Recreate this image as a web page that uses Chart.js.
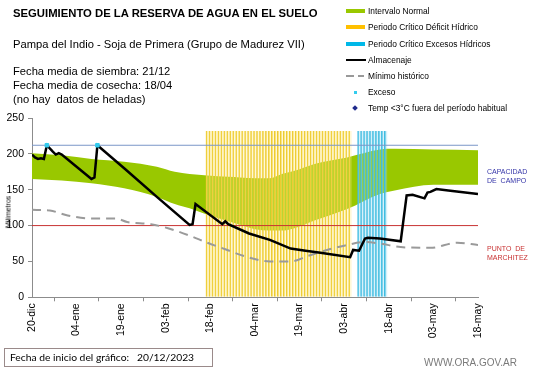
<!DOCTYPE html>
<html>
<head>
<meta charset="utf-8">
<script src="https://cdn.jsdelivr.net/npm/chart.js@4.4.1/dist/chart.umd.min.js"></script>
<style>
body { margin: 0; background: #fff; font-family: "Liberation Sans", Arial, sans-serif; }
#wrap { position: relative; width: 541px; height: 368px; overflow: hidden; }
#chart { position: absolute; left: 0; top: 0; }
.t { position: absolute; white-space: pre; color: #000; line-height: 1; }
.leg { position: absolute; left: 346px; font-size: 8.4px; white-space: nowrap; }
.leg .sw { position: absolute; left: 0; }
.leg span.tx { position: absolute; left: 22px; top: -5px; }
</style>
</head>
<body>
<div id="wrap">
  <canvas id="chart" width="541" height="368"></canvas>

  <div class="t" style="left:13px;top:8px;font-size:11.3px;font-weight:bold;">SEGUIMIENTO DE LA RESERVA DE AGUA EN EL SUELO</div>
  <div class="t" style="left:13px;top:39px;font-size:11.2px;">Pampa del Indio - Soja de Primera (Grupo de Madurez VII)</div>
  <div class="t" style="left:13px;top:64px;font-size:11.2px;line-height:14px;">Fecha media de siembra: 21/12
Fecha media de cosecha: 18/04
(no hay  datos de heladas)</div>

  <div class="leg" style="top:11px;"><div class="sw" style="top:-2px;width:19px;height:4px;background:#99C800;"></div><span class="tx">Intervalo Normal</span></div>
  <div class="leg" style="top:27px;"><div class="sw" style="top:-2px;width:19px;height:4px;background:#FFC000;"></div><span class="tx">Periodo Crítico Déficit Hídrico</span></div>
  <div class="leg" style="top:44px;"><div class="sw" style="top:-2px;width:19px;height:4px;background:#00B8E8;"></div><span class="tx">Periodo Crítico Excesos Hídricos</span></div>
  <div class="leg" style="top:60px;"><div class="sw" style="top:-1px;width:20px;height:2px;background:#000;"></div><span class="tx">Almacenaje</span></div>
  <div class="leg" style="top:76px;"><div class="sw" style="top:-1px;width:8px;height:2px;background:#999;"></div><div class="sw" style="left:12px;top:-1px;width:6px;height:2px;background:#999;"></div><span class="tx">Mínimo histórico</span></div>
  <div class="leg" style="top:92px;"><div class="sw" style="left:8px;top:-1px;width:3px;height:3px;background:#33CCEE;"></div><span class="tx">Exceso</span></div>
  <div class="leg" style="top:108px;"><div class="sw" style="left:7px;top:-2px;width:4px;height:4px;background:#1F2A8C;transform:rotate(45deg);"></div><span class="tx">Temp &lt;3°C fuera del período habitual</span></div>

  <div class="t" style="left:8px;top:212px;font-size:7px;transform:translate(-50%,-50%) rotate(-90deg);">Milímetros</div>

  <div class="t" style="left:487px;top:167px;font-size:7px;line-height:9px;color:#3434A8;">CAPACIDAD
DE  CAMPO</div>
  <div class="t" style="left:487px;top:244px;font-size:7px;line-height:9px;color:#C83232;">PUNTO  DE
MARCHITEZ</div>

  <div class="t" style="left:4px;top:348px;width:202px;height:17px;border:1px solid #9A8A8A;font-family:Lato,'Liberation Sans',sans-serif;font-size:10.3px;line-height:17px;box-sizing:content-box;padding-left:5px;">Fecha de inicio del gráfico:   20/12/2023</div>
  <div class="t" style="left:424px;top:358px;font-size:10px;color:#7A7A7A;">WWW.ORA.GOV.AR</div>
</div>

<script>
// Etiquetas del eje X (cada 15 días desde el 20-dic)
const tickLabels = ['20-dic', '04-ene', '19-ene', '03-feb', '18-feb', '04-mar', '19-mar', '03-abr', '18-abr', '03-may', '18-may'];

// Almacenaje (día desde 20/12, mm)
const almDays   = [0, 1, 2, 3, 4, 5, 7, 8, 9, 10, 20, 21, 22, 31, 42, 53, 54, 55, 64, 65, 66, 73, 80, 87, 92, 97, 107, 108, 110, 112, 113, 117, 124, 126, 128, 132, 133, 134, 136, 140, 150];
const almValues = [199, 195, 193, 194, 193, 212, 203, 199, 201, 199, 165, 167, 212, 180, 140, 101, 102, 130, 102, 106, 102, 89, 80, 68, 65, 62, 56, 66, 65, 82, 83, 82, 78, 142, 143, 138, 146, 147, 151, 149, 144];

// Intervalo normal (límites superior e inferior)
const normalDays  = [0, 10, 20, 31, 42, 48, 53, 59, 66, 70, 75, 80, 84, 88, 95, 106, 117, 122, 135, 150];
const normalUpper = [201, 198, 193, 189, 182, 175, 172, 170, 168, 167, 166, 166, 172, 176, 186, 195, 206, 207, 206, 205];
const normalLower = [165, 163, 159, 152, 140, 130, 124, 115, 106, 101, 95, 93, 93, 96, 107, 123, 144, 149, 157, 157];

// Mínimo histórico
const minDays   = [0, 6, 12, 20, 28, 32, 40, 46, 53, 59, 65, 71, 80, 87, 93, 100, 105, 112, 117, 124, 134, 143, 150];
const minValues = [122, 121, 114, 110, 110, 105, 102, 96, 86, 76, 67, 58, 50, 50, 58, 67, 72, 77, 75, 70, 69, 76, 73];

// Exceso
const excesoDays   = [5, 22];
const excesoValues = [212, 212];

// Periodos críticos (día inicial, día final) y altura de las columnas
const periodoDeficit = [59, 107];
const periodoExceso  = [110, 119];
const alturaPeriodo  = 232;

// Capacidad de campo y punto de marchitez
const capacidadCampo = 212;
const puntoMarchitez = 100;
const diaFinal = 150;

const xy = (days, vals) => days.map((d, i) => ({ x: d, y: vals[i] }));
function periodBars(range) {
    const pts = [];
    for (let d = range[0]; d <= range[1]; d++) pts.push({ x: d, y: alturaPeriodo });
    return pts;
}

const axisColor = '#8C8C8C';
const tickFont = { family: 'Liberation Sans', size: 10.5 };

new Chart(document.getElementById('chart'), {
    type: 'line',
    data: {
        datasets: [
            {
                label: 'Exceso',
                type: 'scatter',
                data: xy(excesoDays, excesoValues),
                pointStyle: 'rect',
                pointRadius: 2.5,
                backgroundColor: '#33CCEE',
                borderColor: '#33CCEE',
                order: 0
            },
            {
                label: 'Almacenaje',
                data: xy(almDays, almValues),
                borderColor: '#000',
                borderWidth: 2.5,
                pointRadius: 0,
                order: 1
            },
            {
                label: 'Mínimo histórico',
                data: xy(minDays, minValues),
                borderColor: '#9A9A9A',
                borderWidth: 2,
                borderDash: [9, 6],
                pointRadius: 0,
                cubicInterpolationMode: 'monotone',
                order: 2
            },
            {
                label: 'Capacidad de campo',
                data: [{ x: 0, y: capacidadCampo }, { x: diaFinal, y: capacidadCampo }],
                borderColor: '#7B96C8',
                borderWidth: 1,
                pointRadius: 0,
                order: 3
            },
            {
                label: 'Punto de marchitez',
                data: [{ x: 0, y: puntoMarchitez }, { x: diaFinal, y: puntoMarchitez }],
                borderColor: '#C83232',
                borderWidth: 1,
                pointRadius: 0,
                order: 3
            },
            {
                label: 'Periodo Crítico Déficit Hídrico',
                type: 'bar',
                data: periodBars(periodoDeficit),
                backgroundColor: 'rgba(255,236,140,0.35)',
                borderColor: '#EDCB2F',
                borderWidth: { left: 1, right: 0, top: 0, bottom: 0 },
                grouped: false,
                barPercentage: 1,
                categoryPercentage: 1,
                order: 4
            },
            {
                label: 'Periodo Crítico Excesos Hídricos',
                type: 'bar',
                data: periodBars(periodoExceso),
                backgroundColor: 'rgba(140,215,240,0.35)',
                borderColor: '#3FBCE0',
                borderWidth: { left: 1, right: 0, top: 0, bottom: 0 },
                grouped: false,
                barPercentage: 1,
                categoryPercentage: 1,
                order: 4
            },
            {
                label: 'Intervalo Normal',
                data: xy(normalDays, normalUpper),
                borderWidth: 0,
                borderColor: 'rgba(0,0,0,0)',
                backgroundColor: '#99C800',
                pointRadius: 0,
                cubicInterpolationMode: 'monotone',
                fill: '+1',
                order: 5
            },
            {
                label: 'Intervalo Normal inferior',
                data: xy(normalDays, normalLower),
                borderWidth: 0,
                borderColor: 'rgba(0,0,0,0)',
                pointRadius: 0,
                cubicInterpolationMode: 'monotone',
                fill: false,
                order: 5
            }
        ]
    },
    options: {
        responsive: false,
        animation: false,
        devicePixelRatio: 1,
        layout: { padding: { left: 0, top: 118, right: 63, bottom: 0 } },
        plugins: {
            legend: { display: false },
            tooltip: { enabled: false }
        },
        scales: {
            x: {
                type: 'linear',
                min: 0,
                max: diaFinal,
                offset: false,
                afterFit: scale => { scale.height = 70.7; },
                border: { display: true, color: axisColor, width: 1 },
                grid: { display: true, drawOnChartArea: false, drawTicks: true, tickLength: 4, color: axisColor },
                ticks: {
                    stepSize: 15,
                    autoSkip: false,
                    minRotation: 90,
                    maxRotation: 90,
                    padding: 2,
                    color: '#000',
                    font: tickFont,
                    callback: v => tickLabels[v / 15]
                }
            },
            y: {
                min: 0,
                max: 250,
                afterFit: scale => { scale.width = 32; },
                border: { display: true, color: axisColor, width: 1 },
                grid: { display: true, drawOnChartArea: false, drawTicks: true, tickLength: 4, color: axisColor },
                ticks: { stepSize: 50, padding: 4, color: '#000', font: tickFont }
            }
        }
    }
});
</script>
</body>
</html>
